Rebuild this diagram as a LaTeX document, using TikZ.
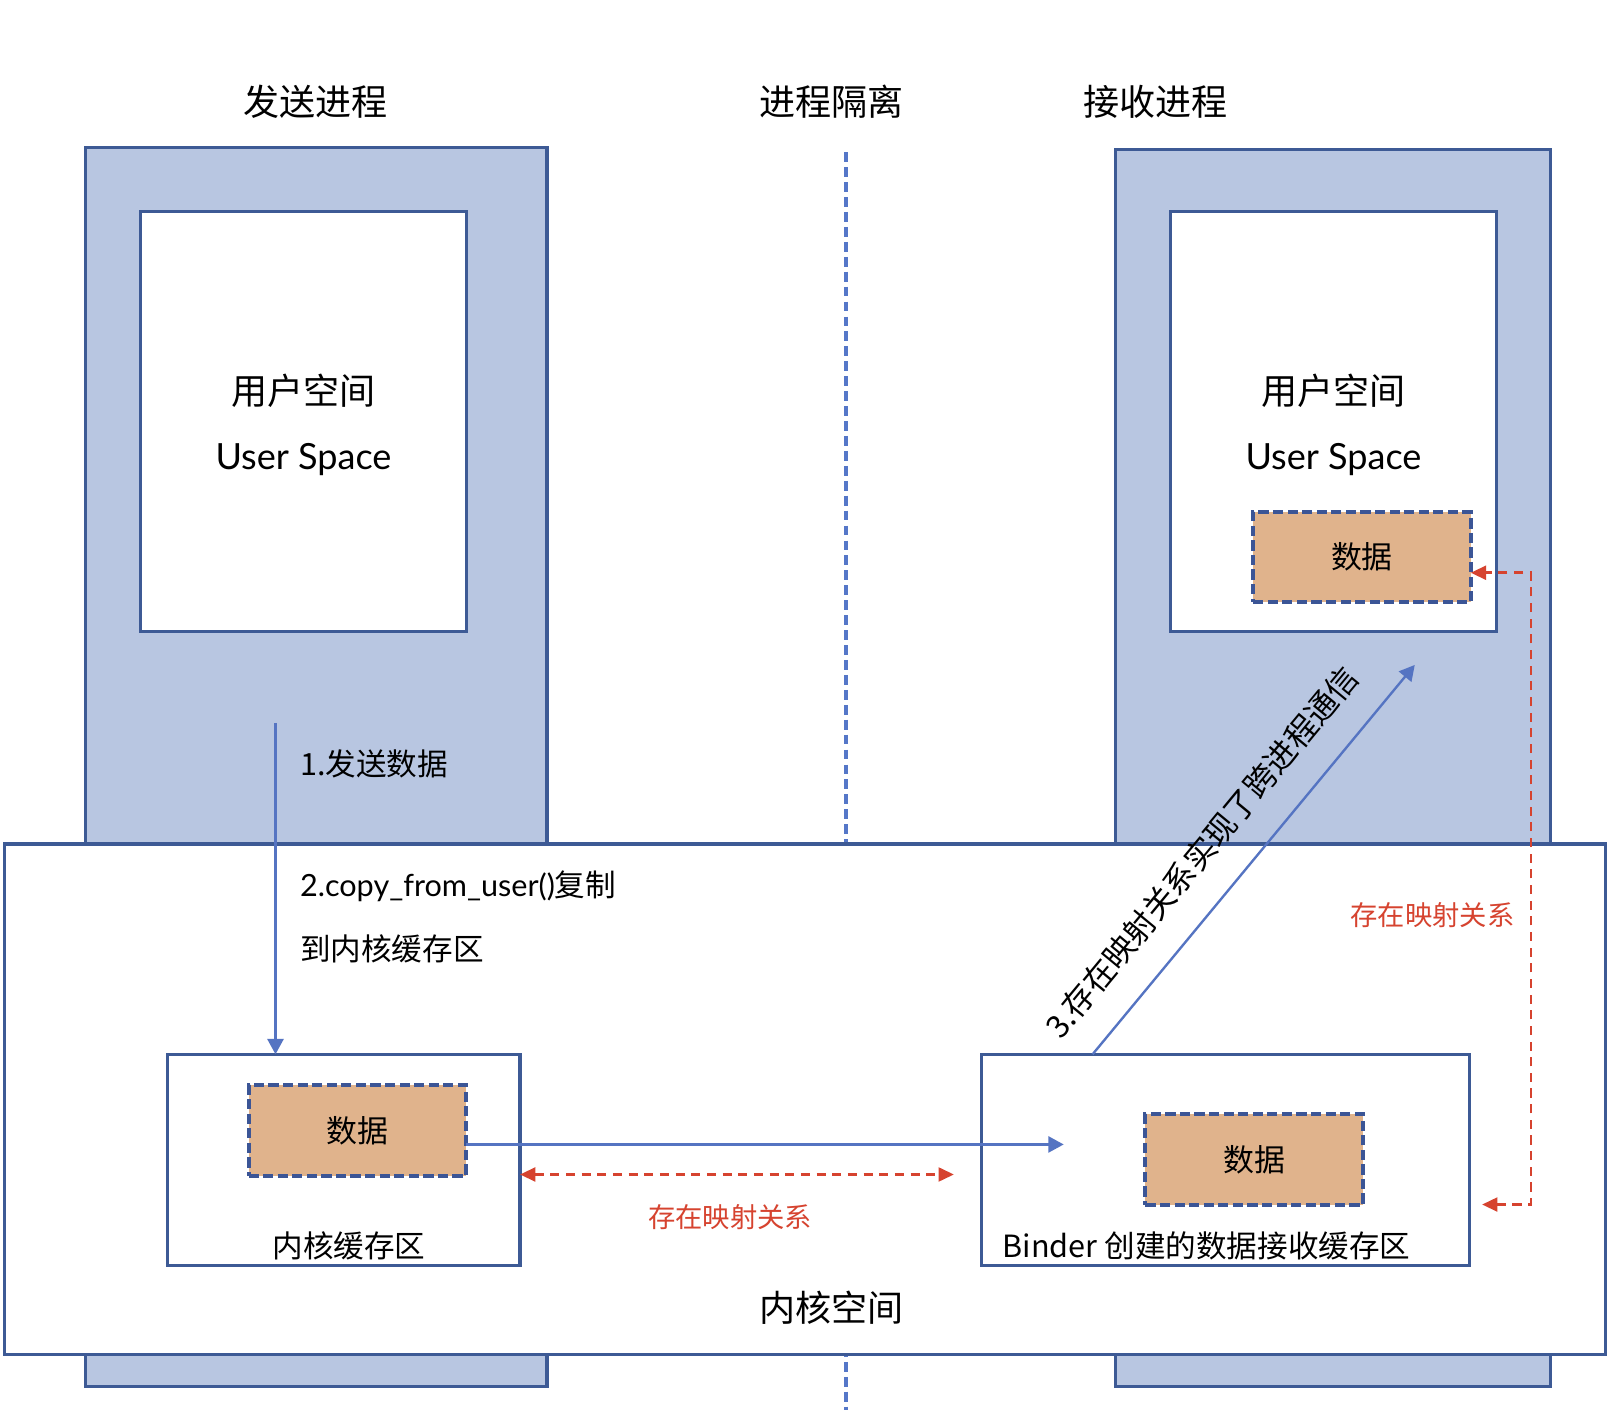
\documentclass[tikz,border=0pt]{standalone}
\usepackage{fontspec}
\setmainfont{Noto Sans CJK SC}
\newfontfamily\latinfont{Lato}
\usepackage{xcolor}
\usepackage{tikz}
\usetikzlibrary{positioning}
\usetikzlibrary{arrows.meta}

\definecolor{procfill}{HTML}{B8C6E1}
\definecolor{procline}{HTML}{3D5A95}
\definecolor{arrowblue}{HTML}{5574C2}
\definecolor{mapred}{HTML}{D6432F}
\definecolor{datafill}{HTML}{E0B38C}
\definecolor{dataline}{HTML}{3B5596}
\definecolor{divblue}{HTML}{5577C8}

\tikzset{
	procbox/.style={draw=procline, fill=procfill, line width=0.85pt, inner sep=0pt, outer sep=0pt},
	whitebox/.style={draw=procline, fill=white, line width=0.85pt, inner sep=0pt, outer sep=0pt},
	databox/.style={draw=dataline, fill=datafill, line width=1.1pt, dash pattern=on 2.8pt off 1.2pt,
		minimum width=2.1cm, minimum height=0.87cm, inner sep=0pt, outer sep=0pt, font=\fontsize{8.5}{10}\selectfont},
	flow/.style={draw=arrowblue, line width=0.65pt, -{Triangle[length=4.2pt, width=4.4pt]}},
	mapping/.style={draw=mapred, line width=0.7pt, dash pattern=on 2.5pt off 1.8pt,
		{Triangle[length=4.2pt, width=3.8pt]}-{Triangle[length=4.2pt, width=3.8pt]}},
	bigtext/.style={font=\fontsize{9.9}{12}\selectfont},
	spacetext/.style={align=center, font=\fontsize{9.9}{17.9}\selectfont},
	smalltext/.style={font=\fontsize{8.4}{10}\selectfont},
	redtext/.style={text=mapred, font=\fontsize{7.5}{9}\selectfont},
}

\begin{document}
\begin{tikzpicture}[x=0.01cm, y=-0.01cm]
			\useasboundingbox (0,0) rectangle (1568,1361);

			% Process titles
			\node[bigtext] (sendtitle) at (305,98) {发送进程};
			\node[bigtext] (isotitle) at (803,98) {进程隔离};
			\node[bigtext] (recvtitle) at (1116,98) {接收进程};

			% Process columns
			\node[procbox, minimum width=4.45cm, minimum height=11.95cm] (sendproc) at (305.5,740.5) {};
			\node[procbox, minimum width=4.2cm, minimum height=11.93cm] (recvproc) at (1287,741.5) {};

			% User spaces
			\node[whitebox, minimum width=3.14cm, minimum height=4.06cm] (senduser) at (293,407) {};
			\node[spacetext] (sendusertext) at (293,410) {用户空间\\{\latinfont User Space}};
			\node[whitebox, minimum width=3.15cm, minimum height=4.06cm] (recvuser) at (1287.5,407) {};
			\node[spacetext] (recvusertext) at (1287.5,410) {用户空间\\{\latinfont User Space}};
			\node[databox] (recvdata) at (1315,538) {数据};

			% Isolation line
			\coordinate (divtop) at (817,147);
			\coordinate (divbot) at (817,1361);
			\draw[divblue, line width=0.95pt, dash pattern=on 2.7pt off 1.4pt] (divtop) -- (divbot);

			% Kernel space
			\node[whitebox, minimum width=15.45cm, minimum height=4.93cm] (kernel) at (777.5,1061.5) {};
			\node[bigtext] (kerneltext) at (803,1263) {内核空间};

			% Kernel buffers
			\node[whitebox, minimum width=3.4cm, minimum height=2.04cm] (sendbuf) at (332,1120) {};
			\node[smalltext] (sendbuftext) at (337,1203) {内核缓存区};
			\node[databox] (senddata) at (345,1091.5) {数据};

			\node[whitebox, minimum width=4.71cm, minimum height=2.04cm] (recvbuf) at (1183.5,1120) {};
			\node[smalltext] (recvbuftext) at (1165,1203) {Binder 创建的数据接收缓存区};
			\node[databox] (recvbufdata) at (1211,1119.5) {数据};

			% 1 and 2: send and copy
			\coordinate (sendstart) at (266,698);
			\draw[flow] (sendstart) -- (sendstart |- sendbuf.north);
			\node[smalltext, anchor=west, inner sep=0pt] (step1) at (289,738) {1.发送数据};
			\node[smalltext, anchor=west, inner sep=0pt] (step2) at (289,856) {{\latinfont 2.copy\_from\_user()}复制};
			\node[smalltext, anchor=west, inner sep=0pt] (step2b) at (289,916) {到内核缓存区};

			% Copy to receive buffer
			\coordinate (copyend) at (1027,1105);
			\draw[flow] (senddata.east |- copyend) -- (copyend);

			% Mapping between buffers
			\coordinate (mapright) at (921,1134);
			\draw[mapping] (sendbuf.east |- mapright) -- (mapright);
			\node[redtext] (maptext1) at (705,1175) {存在映射关系};

			% Mapping to receiver user space
			\coordinate (mapfoot) at (1431,1163);
			\coordinate (mapbot) at (1478,1163);
			\coordinate (mapturn) at (1478,553);
			\draw[mapping] (mapfoot) -- (mapbot) -- (mapturn) -- (recvdata.east |- mapturn);
			\node[redtext, anchor=east, inner sep=0pt] (maptext2) at (1463,884) {存在映射关系};

			% 3: cross process
			\coordinate (ipctip) at (1366,642);
			\draw[flow] ([xshift=-1.285cm]recvbuf.north) -- (ipctip)
				node[pos=0.446, sloped, above=0.28cm, inner sep=0pt, font=\fontsize{8.7}{10}\selectfont] (step3) {3.存在映射关系实现了跨进程通信};

		\end{tikzpicture}
\end{document}
